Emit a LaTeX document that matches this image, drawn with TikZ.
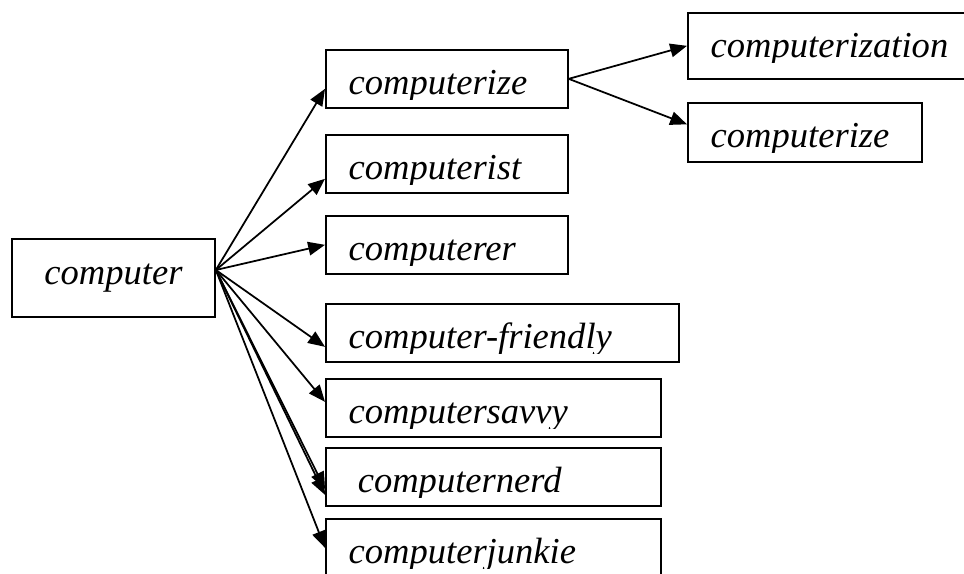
\documentclass[tikz,border=0pt]{standalone}
\usepackage{fontspec}
\setmainfont{Liberation Serif}
\usetikzlibrary{arrows.meta}

\begin{document}
\begin{tikzpicture}[>={Triangle[length=4.2mm,width=3.4mm]},line cap=round,
  wordfont/.style={font=\fontsize{26}{30}\selectfont\itshape},
  rootbox/.style={draw,line width=1.2pt,wordfont,inner sep=0pt,minimum width=5.075cm,minimum height=1.95cm},
  leafbox/.style={draw,line width=1.2pt,inner sep=0pt,anchor=north west,minimum height=1.45cm,
    path picture={
      \clip (path picture bounding box.north west) rectangle ([yshift=-1.25cm]path picture bounding box.north east);
      \node[wordfont,draw=none,inner sep=0pt,minimum width=0pt,minimum height=0pt,anchor=base west]
        at ([xshift=0.55cm,yshift=-1.12cm]path picture bounding box.north west) {#1};}},
  link/.style={->,line width=1.25pt}]
\useasboundingbox (0,0) rectangle (24.1,14.35);
% word boxes
\node[rootbox] (root) at (2.8375,7.4) {computer};
\node[leafbox=computerize,minimum width=6.05cm] (ize) at (8.125,13.125) {};
\node[leafbox=computerist,minimum width=6.05cm] (ist) at (8.125,11.0) {};
\node[leafbox=computerer,minimum width=6.05cm] (er) at (8.125,8.975) {};
\node[leafbox=computer-friendly,minimum width=8.825cm] (fri) at (8.125,6.775) {};
\node[leafbox=computersavvy,minimum width=8.375cm] (sav) at (8.125,4.9) {};
\node[leafbox={\ computernerd},minimum width=8.375cm] (nrd) at (8.125,3.175) {};
\node[leafbox=computerjunkie,minimum width=8.375cm] (jnk) at (8.125,1.4) {};
\node[leafbox=computerization,minimum width=8cm,minimum height=1.65cm] (ion) at (17.175,14.05) {};
\node[leafbox=computerize,minimum width=5.85cm,minimum height=1.475cm] (ize2) at (17.175,11.8) {};
% arrows
\coordinate (fan) at ([yshift=0.2cm]root.east);
\draw[link] (fan) -- ([yshift=-0.25cm]ize.west);
\draw[link] (fan) -- ([yshift=-0.375cm]ist.west);
\draw[link] (fan) -- (er.west);
\draw[link] (fan) -- ([yshift=-0.35cm]fri.west);
\draw[link] (fan) -- ([yshift=0.15cm]sav.west);
\draw[link] (fan) -- ([yshift=-0.3cm]nrd.west);
\draw[link] (fan) -- ([yshift=-0.45cm]nrd.west);
\draw[link] (fan) -- (jnk.west);
\draw[link] (ize.east) -- (ion.west);
\draw[link] (ize.east) -- ([yshift=0.2cm]ize2.west);
\end{tikzpicture}
\end{document}
